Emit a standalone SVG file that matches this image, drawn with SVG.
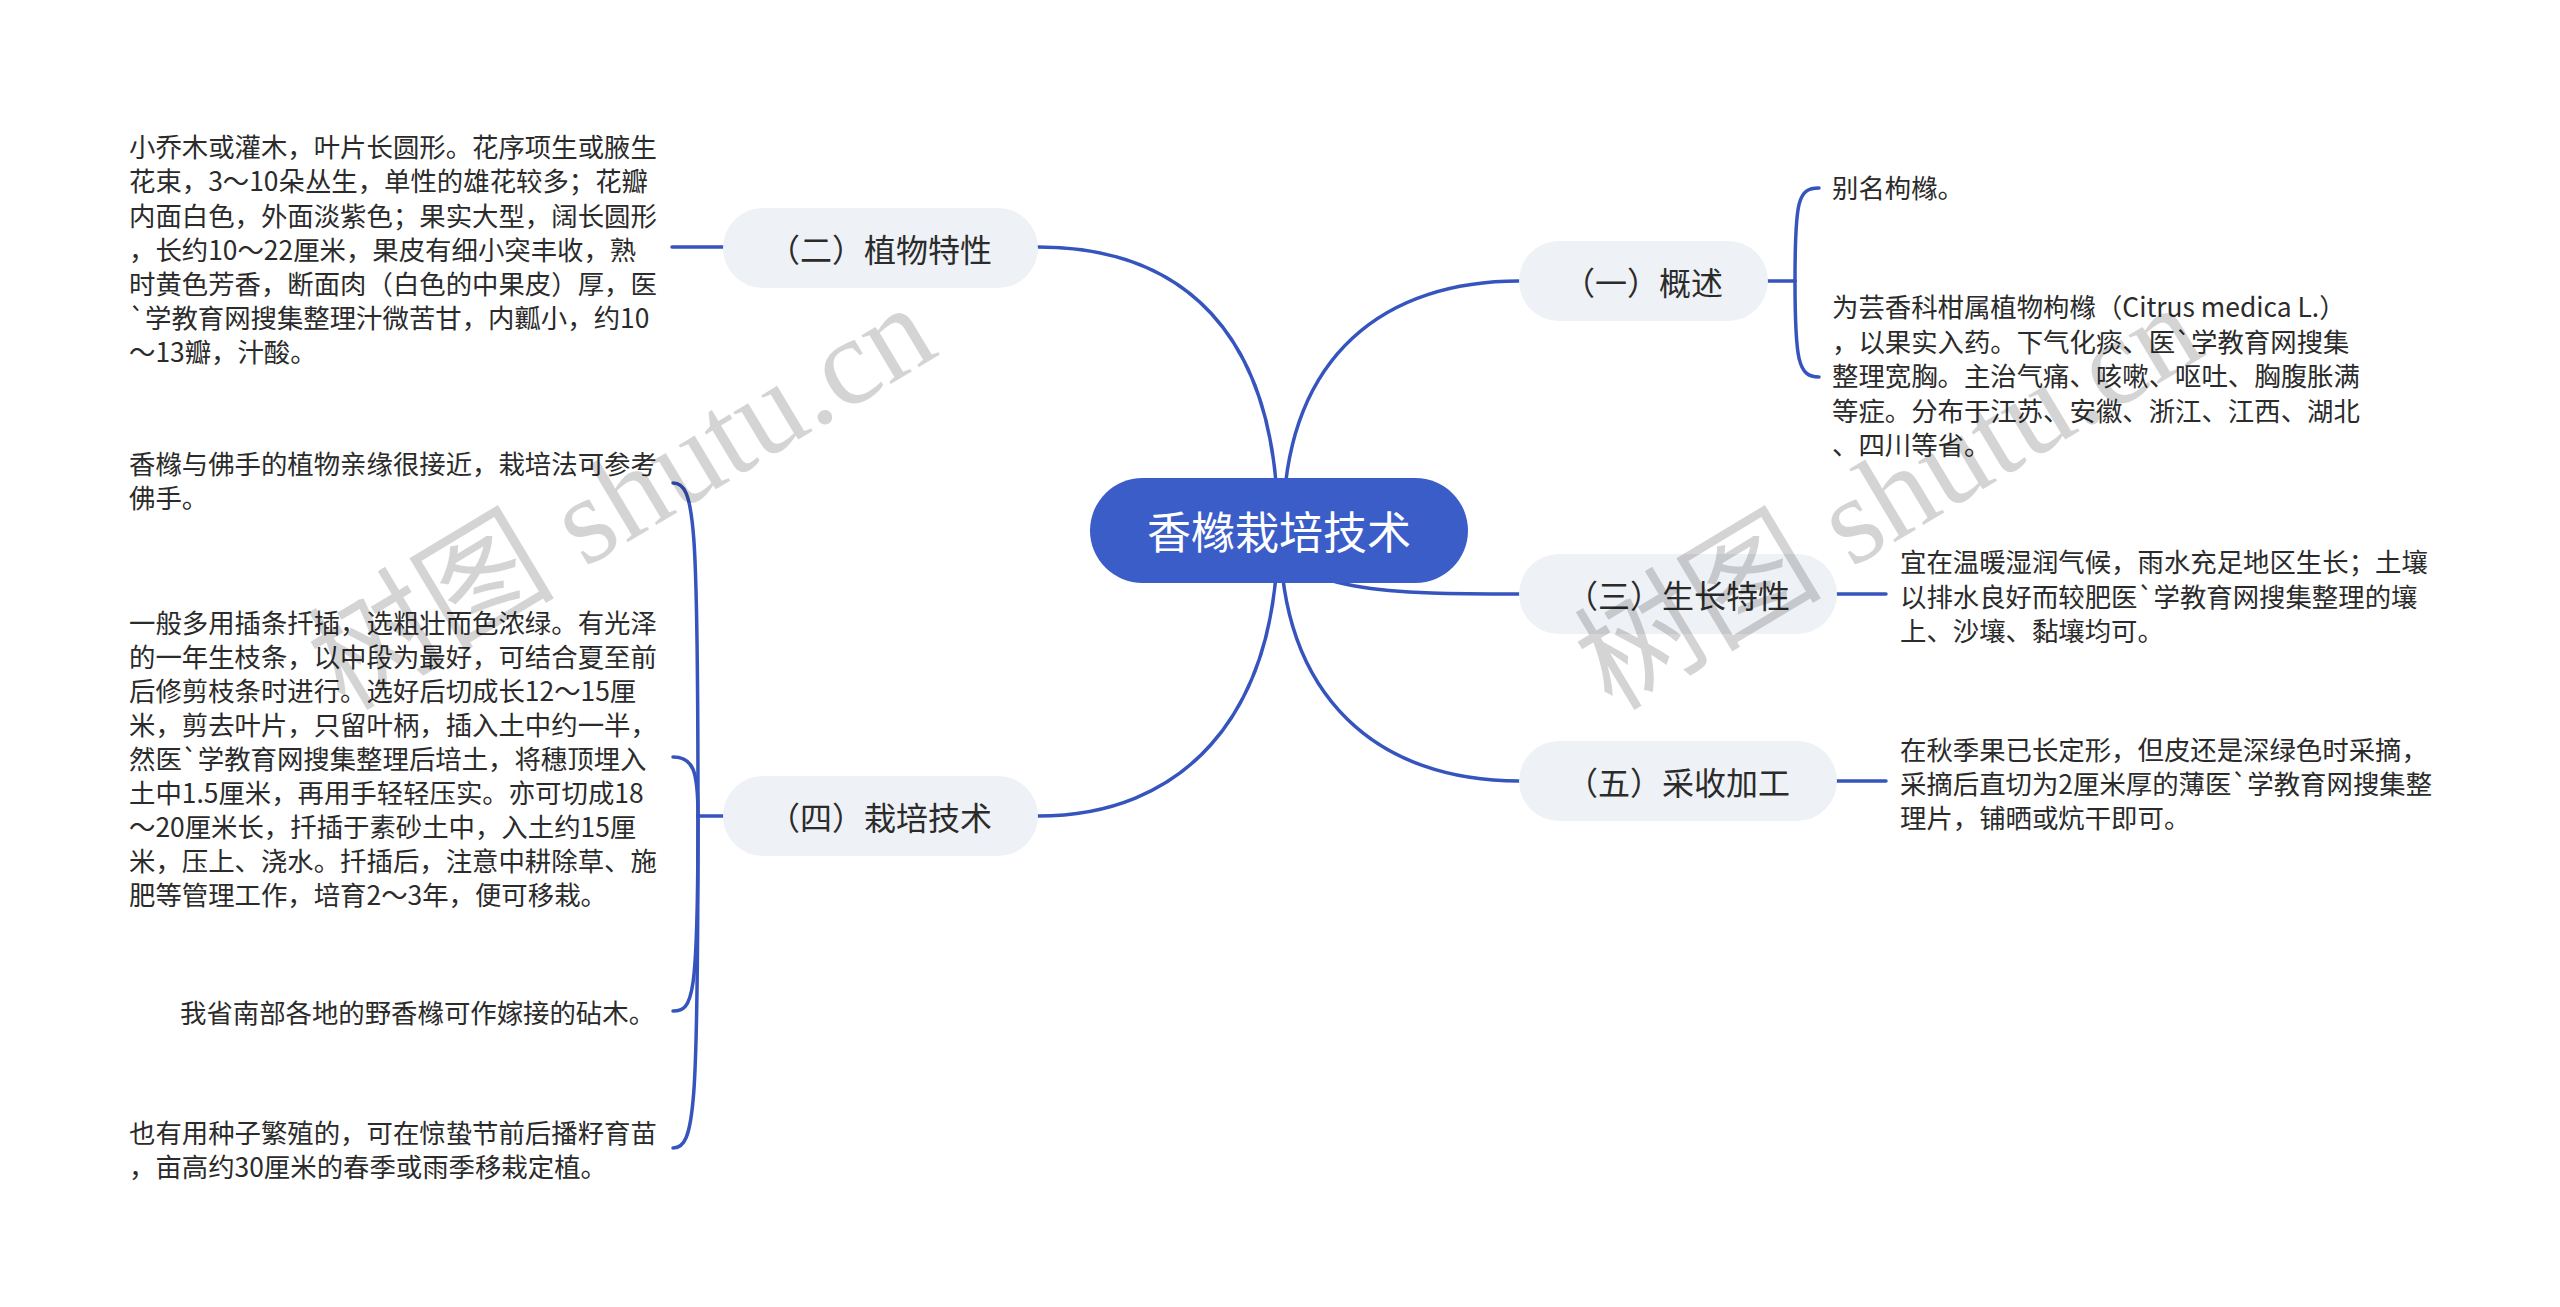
<svg xmlns="http://www.w3.org/2000/svg" width="2560" height="1307" viewBox="0 0 2560 1307">
<style>
.bg{fill:#ffffff}
.conn{fill:none;stroke:#3654bd;stroke-width:3.5;stroke-linecap:round}
.root rect{fill:#3b5dc8}
.root text{fill:#ffffff;font-family:"Noto Sans CJK SC",sans-serif;font-size:44px;text-anchor:middle;dominant-baseline:central}
.br rect{fill:#eef1f5}
.br text{fill:#2b2b2b;font-family:"Noto Sans CJK SC",sans-serif;font-size:32px;text-anchor:middle;dominant-baseline:central}
.leaf text{fill:#2b2b2b;font-family:"Noto Sans CJK SC",sans-serif;font-size:26.4px}
.wm{fill:#000000;fill-opacity:0.17;font-family:"Liberation Serif","Noto Sans CJK SC",serif;font-size:124px}
</style>
<rect class="bg" x="0" y="0" width="2560" height="1307"/>
<g id="connectors">
<path class="conn" d="M1278 530 C1278 330 1180 247 1038 247"/>
<path class="conn" d="M1278 530 C1278 720 1180 816 1038 816"/>
<path class="conn" d="M1283 530 C1283 350 1390 281 1519 281"/>
<path class="conn" d="M1280 530 C1280 594 1400 594 1519 594"/>
<path class="conn" d="M1280 530 C1280 700 1380 781 1519 781"/>
<path class="conn" d="M723 247 L672 247"/>
<path class="conn" d="M723 816 L698 816"/>
<path class="conn" d="M698 816 C698 520 695 483 673 483"/>
<path class="conn" d="M698 816 C698 770 693 757 673 757"/>
<path class="conn" d="M698 816 C698 1000 693 1011 673 1011"/>
<path class="conn" d="M698 816 C698 1110 695 1148 673 1148"/>
<path class="conn" d="M1768 281 L1795 281"/>
<path class="conn" d="M1795 281 C1795 200 1798 188 1819 188"/>
<path class="conn" d="M1795 281 C1795 360 1798 377 1819 377"/>
<path class="conn" d="M1837 594 L1886 594"/>
<path class="conn" d="M1837 781 L1886 781"/>
</g>
<g id="root" class="root">
<rect x="1090" y="478" width="378" height="105" rx="52.5"/>
<text x="1279" y="530">香橼栽培技术</text>
</g>
<g id="b2" class="br">
<rect x="723" y="208" width="315" height="80" rx="40"/>
<text x="880" y="248">（二）植物特性</text>
</g>
<g id="b4" class="br">
<rect x="723" y="776" width="315" height="80" rx="40"/>
<text x="880" y="816">（四）栽培技术</text>
</g>
<g id="b1" class="br">
<rect x="1519" y="241" width="249" height="80" rx="40"/>
<text x="1643" y="281">（一）概述</text>
</g>
<g id="b3" class="br">
<rect x="1519" y="554" width="318" height="80" rx="40"/>
<text x="1678" y="594">（三）生长特性</text>
</g>
<g id="b5" class="br">
<rect x="1519" y="741" width="318" height="80" rx="40"/>
<text x="1678" y="781">（五）采收加工</text>
</g>
<g id="l2" class="leaf">
<text x="129" y="157">小乔木或灌木，叶片长圆形。花序项生或腋生</text>
<text x="129" y="191">花束，3～10朵丛生，单性的雄花较多；花瓣</text>
<text x="129" y="226">内面白色，外面淡紫色；果实大型，阔长圆形</text>
<text x="129" y="260">，长约10～22厘米，果皮有细小突丰收，熟</text>
<text x="129" y="294">时黄色芳香，断面肉（白色的中果皮）厚，医</text>
<text x="129" y="328">`学教育网搜集整理汁微苦甘，内瓤小，约10</text>
<text x="129" y="362">～13瓣，汁酸。</text>
</g>
<g id="l4a" class="leaf">
<text x="129" y="474">香橼与佛手的植物亲缘很接近，栽培法可参考</text>
<text x="129" y="508">佛手。</text>
</g>
<g id="l4b" class="leaf">
<text x="129" y="633">一般多用插条扦插，选粗壮而色浓绿。有光泽</text>
<text x="129" y="667">的一年生枝条，以中段为最好，可结合夏至前</text>
<text x="129" y="701">后修剪枝条时进行。选好后切成长12～15厘</text>
<text x="129" y="735">米，剪去叶片，只留叶柄，插入土中约一半，</text>
<text x="129" y="769">然医`学教育网搜集整理后培土，将穗顶埋入</text>
<text x="129" y="803">土中1.5厘米，再用手轻轻压实。亦可切成18</text>
<text x="129" y="837">～20厘米长，扦插于素砂土中，入土约15厘</text>
<text x="129" y="871">米，压上、浇水。扦插后，注意中耕除草、施</text>
<text x="129" y="905">肥等管理工作，培育2～3年，便可移栽。</text>
</g>
<g id="l4c" class="leaf">
<text x="180" y="1023">我省南部各地的野香橼可作嫁接的砧木。</text>
</g>
<g id="l4d" class="leaf">
<text x="129" y="1143">也有用种子繁殖的，可在惊蛰节前后播籽育苗</text>
<text x="129" y="1177">，亩高约30厘米的春季或雨季移栽定植。</text>
</g>
<g id="l1a" class="leaf">
<text x="1832" y="198">别名枸橼。</text>
</g>
<g id="l1b" class="leaf">
<text x="1832" y="317">为芸香科柑属植物枸橼（Citrus medica L.）</text>
<text x="1832" y="352">，以果实入药。下气化痰、医`学教育网搜集</text>
<text x="1832" y="386">整理宽胸。主治气痛、咳嗽、呕吐、胸腹胀满</text>
<text x="1832" y="421">等症。分布于江苏、安徽、浙江、江西、湖北</text>
<text x="1832" y="455">、四川等省。</text>
</g>
<g id="l3" class="leaf">
<text x="1900" y="572">宜在温暖湿润气候，雨水充足地区生长；土壤</text>
<text x="1900" y="607">以排水良好而较肥医`学教育网搜集整理的壤</text>
<text x="1900" y="641">上、沙壤、黏壤均可。</text>
</g>
<g id="l5" class="leaf">
<text x="1900" y="760">在秋季果已长定形，但皮还是深绿色时采摘，</text>
<text x="1900" y="794">采摘后直切为2厘米厚的薄医`学教育网搜集整</text>
<text x="1900" y="828">理片，铺晒或炕干即可。</text>
</g>
<g id="watermark">
<text class="wm" transform="translate(345 712) rotate(-31)">树图 shutu.cn</text>
<text class="wm" transform="translate(1612 712) rotate(-31)">树图 shutu.cn</text>
</g>
</svg>
